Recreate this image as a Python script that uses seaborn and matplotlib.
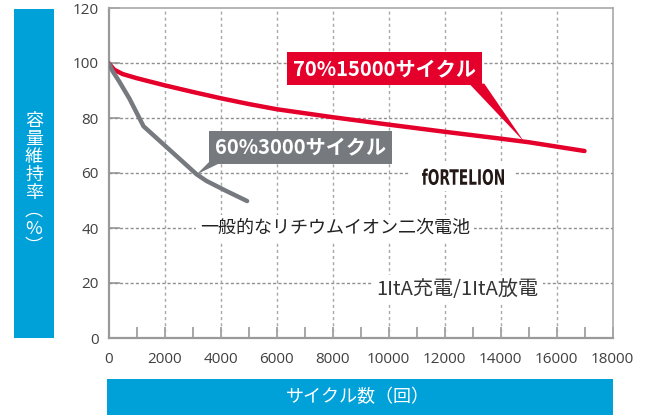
import numpy as np
import pandas as pd
import seaborn as sns
import matplotlib.pyplot as plt
from matplotlib.patches import Rectangle, Polygon, PathPatch
from matplotlib.textpath import TextPath
from matplotlib.font_manager import FontProperties
from matplotlib.transforms import Affine2D, IdentityTransform

# cycle-life data
fortelion_cycles = [0, 200, 500, 1000, 2000, 3000, 4000, 5000, 6000, 8000, 10000, 12000, 14000, 15000, 17000]
fortelion_capacity = [100, 97.6, 96.0, 94.5, 91.9, 89.5, 87.2, 85.1, 83.2, 80.3, 77.6, 75.0, 72.5, 71.2, 68.0]

liion_cycles = [0, 150, 400, 750, 1250, 2000, 2500, 3150, 3500, 4200, 4950]
liion_capacity = [100, 97, 93, 87, 77, 70.1, 65.5, 59.5, 57.1, 53.5, 49.8]

x_ticks = list(range(0, 18001, 2000))
y_ticks = list(range(0, 121, 20))

RED = "#e4002b"
GRAY = "#767a7e"
BLUE = "#00a1d9"

sns.set_theme(style="white")
plt.rcParams["font.family"] = ["Noto Sans CJK JP", "DejaVu Sans"]

df_f = pd.DataFrame({"cycles": fortelion_cycles, "capacity": fortelion_capacity})
df_l = pd.DataFrame({"cycles": liion_cycles, "capacity": liion_capacity})

fig = plt.figure(figsize=(6.51, 4.16), dpi=100)
pos = [108.5 / 651, 1 - 338 / 416, 504 / 651, 330 / 416]

# frame axes: spines + ticks only
ax = fig.add_axes(pos)
# grid layer and data layer stacked on top, transparent
ax_g = fig.add_axes(pos, zorder=1)
ax_d = fig.add_axes(pos, zorder=2)
for a in (ax, ax_g, ax_d):
    a.set_xlim(0, 18000)
    a.set_ylim(0, 120)
ax_g.axis("off")

# dashed grid
for v in y_ticks[1:-1]:
    ax_g.axhline(v, color="#8f8f8f", linestyle=(0, (2.2, 1.6)), linewidth=1.0)
for v in x_ticks[1:-1]:
    ax_g.axvline(v, color="#a8a8a8", linestyle=(0, (2.2, 2.2)), linewidth=1.0)

sns.lineplot(data=df_f, x="cycles", y="capacity", ax=ax_d, color=RED, linewidth=3.2,
             solid_capstyle="round", zorder=4)
sns.lineplot(data=df_l, x="cycles", y="capacity", ax=ax_d, color=GRAY, linewidth=3.2,
             solid_capstyle="round", zorder=4)
ax_d.set_xlim(0, 18000)
ax_d.set_ylim(0, 120)
ax_d.axis("off")

ax.set_xticks(x_ticks)
ax.set_yticks(y_ticks)
ax.set_xticks(range(1000, 18000, 1000), minor=True)
ax.tick_params(axis="both", which="both", direction="in", length=8, width=1.3,
               color="#a0a0a0", bottom=True, left=True, top=False, right=False)
ax.tick_params(axis="x", which="major", pad=10)
ax.tick_params(axis="y", which="major", pad=7)
for lab in ax.get_xticklabels() + ax.get_yticklabels():
    lab.set_fontfamily(["Open Sans", "DejaVu Sans"])
    lab.set_fontsize(11)
    lab.set_color("#404040")

for side in ["left", "bottom"]:
    ax.spines[side].set_color("#9a9a9a")
    ax.spines[side].set_linewidth(1.6)
for side in ["top", "right"]:
    ax.spines[side].set_color("#a8a8a8")
    ax.spines[side].set_linewidth(1.2)

# callouts
red_tip = (14840, np.interp(14840, fortelion_cycles, fortelion_capacity))
ax_d.add_patch(Polygon([(12880, 92.5), (13420, 92.5), red_tip], closed=True, fc=RED, ec="none", zorder=6))
ax_d.text(9860, 98.0, "70%15000サイクル", ha="center", va="center", fontsize=14.5,
          fontweight="bold", color="white", zorder=6,
          bbox=dict(boxstyle="square,pad=0.3", fc=RED, ec="none"))

gray_tip = (3150, np.interp(3150, liion_cycles, liion_capacity))
ax_d.add_patch(Polygon([(3590, 64.0), (4060, 64.0), gray_tip], closed=True, fc=GRAY, ec="none", zorder=6))
ax_d.text(6850, 69.4, "60%3000サイクル", ha="center", va="center", fontsize=14.5,
          fontweight="bold", color="white", zorder=6,
          bbox=dict(boxstyle="square,pad=0.3", fc=GRAY, ec="none"))

ax_d.text(8090, 40, "一般的なリチウムイオン二次電池", ha="center", va="center", fontsize=13,
          color="#222222", zorder=5, bbox=dict(fc="white", ec="none", pad=3))
ax_d.text(12464, 17.6, "1ItA充電/1ItA放電", ha="center", va="center", fontsize=14.5,
          color="#333333", zorder=5, bbox=dict(fc="white", ec="none", pad=3))

# FORTELION logo: condensed text drawn as a path (pixel coordinates)
tp = TextPath((0, 0), "fORTELION", size=100, prop=FontProperties(family="DejaVu Sans", weight="bold"))
ext = tp.get_extents()
cap_h = 72.9
logo_tr = (Affine2D().translate(-(ext.x0 + ext.width / 2), -cap_h / 2)
           .scale(82 / ext.width, 15.5 / cap_h).translate(463, 416 - 177))
fig.add_artist(Rectangle((410, 416 - 191), 105, 30, transform=IdentityTransform(),
                         fc="white", ec="none", zorder=3))
fig.add_artist(PathPatch(logo_tr.transform_path(tp), transform=IdentityTransform(),
                         fc="#231815", ec="none", zorder=4))

# blue axis label boxes
fig.patches.append(Rectangle((14 / 651, 1 - 338 / 416), 40 / 651, 329 / 416,
                             transform=fig.transFigure, fc=BLUE, ec="none"))
fig.patches.append(Rectangle((107 / 651, 1 / 416), 506 / 651, 36 / 416,
                             transform=fig.transFigure, fc=BLUE, ec="none"))
fig.text(34 / 651, 1 - 184 / 416, "容\n量\n維\n持\n率\n︵\n%\n︶", ha="center", va="center",
         color="white", fontsize=13, linespacing=1.0)
fig.text(358 / 651, 1 - 397 / 416, "サイクル数（回）", ha="center", va="center",
         color="white", fontsize=13)

fig.savefig("out.png", dpi=100)
